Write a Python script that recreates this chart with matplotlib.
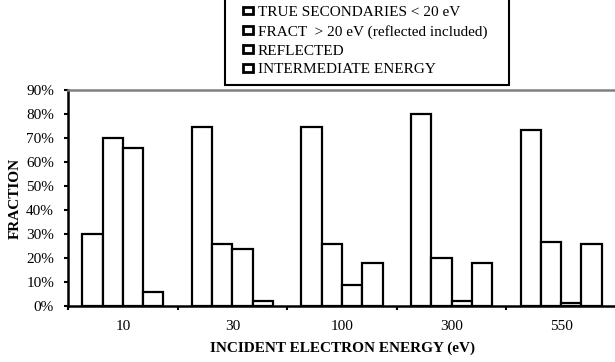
import numpy as np
import matplotlib
matplotlib.use('Agg')
import matplotlib.pyplot as plt
from matplotlib.patches import Rectangle
from matplotlib.ticker import PercentFormatter

plt.rcParams['font.family'] = ['Liberation Serif', 'DejaVu Serif']

# data (fractions in %)
energies = ['10', '30', '100', '300', '550']
series_names = ['TRUE SECONDARIES < 20 eV',
                'FRACT  > 20 eV (reflected included)',
                'REFLECTED',
                'INTERMEDIATE ENERGY']
true_secondaries = [30.2, 74.4, 74.4, 80.1, 73.2]
fract_above_20 = [70.1, 25.7, 25.7, 19.9, 26.5]
reflected = [65.7, 23.6, 8.7, 2.1, 1.1]
intermediate = [5.7, 2.2, 17.9, 17.9, 25.7]

fig = plt.figure(figsize=(6.15, 3.62), dpi=100)
ax = fig.add_axes([68/615, 1 - 306/362, 548/615, 216/362])

x = np.arange(len(energies))
w = 0.185
all_series = [true_secondaries, fract_above_20, reflected, intermediate]
for i, (vals, name) in enumerate(zip(all_series, series_names)):
    ax.bar(x + (i - 1.5) * w, vals, w, color='white', edgecolor='black',
           linewidth=1.6, label=name)

ax.set_xlim(-0.5, len(energies) - 0.5)
ax.set_ylim(0, 90)
ax.set_yticks(np.arange(0, 91, 10))
ax.yaxis.set_major_formatter(PercentFormatter(decimals=0))
ax.set_xticks(x)
ax.set_xticklabels(energies)
ax.set_xticks(np.arange(-0.5, len(energies), 1), minor=True)
ax.tick_params(axis='x', which='major', length=0, pad=10, labelsize=11)
ax.tick_params(axis='x', which='minor', length=3, width=1.5, direction='out')
ax.tick_params(axis='y', length=3, width=1.5, labelsize=11, pad=7)

ax.spines['right'].set_visible(False)
ax.spines['top'].set_color('#808080')
ax.spines['top'].set_linewidth(1.8)
ax.spines['left'].set_linewidth(1.8)
ax.spines['bottom'].set_linewidth(1.8)

ax.set_xlabel('INCIDENT ELECTRON ENERGY (eV)', fontsize=11, fontweight='bold', labelpad=6)
ax.set_ylabel('FRACTION', fontsize=11, fontweight='bold', labelpad=3)

# legend: frame drawn separately so the entries sit inset from its edges
fig.patches.append(Rectangle((225/615, 1 - 85/362), 284/615, 0.3,
                             transform=fig.transFigure, facecolor='white',
                             edgecolor='black', linewidth=1.5, zorder=0))
leg = fig.legend(loc='upper left', bbox_to_anchor=(243/615, 1 - 6/362),
                 fontsize=11, frameon=False,
                 handlelength=0.65, handleheight=0.4, handletextpad=0.3,
                 labelspacing=0.38, borderpad=0, borderaxespad=0)
for h in leg.legend_handles:
    h.set_linewidth(2)

fig.savefig('out.png', dpi=100)
